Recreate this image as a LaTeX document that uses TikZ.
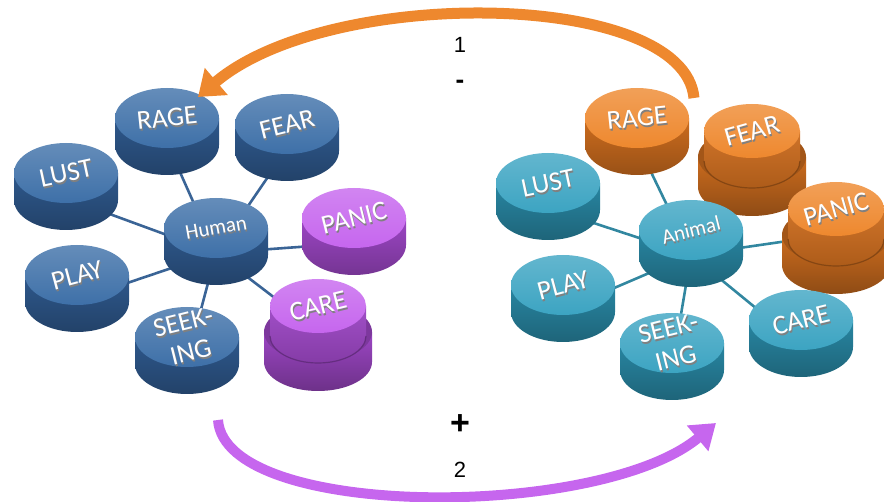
\documentclass[tikz,border=0pt]{standalone}
\usepackage{fontspec}
\usepackage{tikz}
\usetikzlibrary{calc}
\usetikzlibrary{arrows.meta}
\usetikzlibrary{shapes.geometric}
\newfontfamily\knobfont{Carlito}
\newfontfamily\markfont{Liberation Sans}
\definecolor{bluetop}{RGB}{62, 112, 168}
\definecolor{blueside}{RGB}{46, 88, 140}
\definecolor{bluespoke}{RGB}{58, 100, 150}
\definecolor{tealtop}{RGB}{60, 164, 194}
\definecolor{tealside}{RGB}{40, 134, 162}
\definecolor{tealspoke}{RGB}{50, 135, 160}
\definecolor{orangetop}{RGB}{238, 136, 46}
\definecolor{orangeside}{RGB}{204, 108, 30}
\definecolor{violettop}{RGB}{198, 102, 238}
\definecolor{violetside}{RGB}{156, 70, 196}
\pgfdeclarelayer{background}
\pgfsetlayers{background,main}

\tikzset{
  face/.style={ellipse, minimum width=104pt, minimum height=60pt, inner sep=0pt},
  capface/.style={ellipse, minimum width=96pt, minimum height=54pt, inner sep=0pt},
  knoblabel/.style={text=white, font=\knobfont\fontsize{27}{31}\selectfont, align=center, inner sep=0pt},
  hublabel/.style={knoblabel, font=\knobfont\fontsize{21}{22}\selectfont},
  spoke/.style={line width=2.6pt},
  signlabel/.style={font=\markfont\fontsize{22}{24}\selectfont}
}

% #1 label style, #2 name, #3 x, #4 y, #5 colour, #6 angle, #7 label
\newcommand{\knob}[7][knoblabel]{%
  \shade[top color=#5side, bottom color=#5side!75!black]
    (#3-52,#4) -- (#3-52,#4+27) arc[start angle=180, end angle=0, x radius=52, y radius=30] -- (#3+52,#4) -- cycle;
  \node[face, top color=#5top!80!white, bottom color=#5top] (#2) at (#3,#4) {};
  \node[#1, text=black!50, rotate=#6] (#2-s) at (#3+1,#4+2) {#7};
  \node[#1, rotate=#6] (#2-t) at (#3,#4) {#7};
}
% #1 name, #2 x, #3 y, #4 colour, #5 angle, #6 label
\newcommand{\tallknob}[6]{%
  \shade[top color=#4side, bottom color=#4side!70!black]
    (#2-54,#3+26) -- (#2-54,#3+56) arc[start angle=180, end angle=0, x radius=54, y radius=29] -- (#2+54,#3+26) -- cycle;
  \fill[#4side!80!black] (#2,#3+26) ellipse[x radius=54, y radius=29];
  \shade[top color=#4side!95!white, bottom color=#4side!85!black]
    (#2-48,#3) -- (#2-48,#3+30) arc[start angle=180, end angle=0, x radius=48, y radius=27] -- (#2+48,#3) -- cycle;
  \draw[#4side!65!black, line width=1.2pt] (#2-48,#3+30) arc[start angle=180, end angle=0, x radius=48, y radius=27];
  \node[capface, top color=#4top!80!white, bottom color=#4top] (#1) at (#2,#3) {};
  \node[knoblabel, text=black!50, rotate=#5] (#1-s) at (#2+1,#3+2) {#6};
  \node[knoblabel, rotate=#5] (#1-t) at (#2,#3) {#6};
}

\begin{document}
\begin{tikzpicture}[x=1pt, y=-1pt]
\useasboundingbox (0,0) rectangle (884,502);

% human side
\knob{hrage}{167}{118}{blue}{6}{RAGE}
\knob{hfear}{287}{124}{blue}{14}{FEAR}
\knob{hlust}{66}{173}{blue}{12}{LUST}
\knob[hublabel]{human}{216}{228}{blue}{10}{Human}
\knob{hpanic}{354}{218}{violet}{14}{PANIC}
\knob{hplay}{77}{275}{blue}{15}{PLAY}
\knob{hseeking}{187}{337}{blue}{14}{SEEK-\\ING}
\tallknob{hcare}{318}{306}{violet}{14}{CARE}

% animal side
\knob{arage}{637}{118}{orange}{6}{RAGE}
\tallknob{afear}{752}{131}{orange}{16}{FEAR}
\knob{alust}{548}{183}{teal}{12}{LUST}
\tallknob{apanic}{836}{209}{orange}{16}{PANIC}
\knob[hublabel]{animal}{691}{230}{teal}{14}{Animal}
\knob{aplay}{563}{285}{teal}{15}{PLAY}
\knob{acare}{801}{320}{teal}{14}{CARE}
\knob{aseeking}{672}{343}{teal}{14}{SEEK-\\ING}

\begin{pgfonlayer}{background}
  \foreach \k in {rage,fear,lust,panic,play,seeking,care}
    \draw[spoke, bluespoke] ($(human)+(0,25)$) -- ($(h\k)+(0,25)$);
  \foreach \k in {rage,fear,lust,panic,play,seeking,care}
    \draw[spoke, tealspoke] ($(animal)+(0,25)$) -- ($(a\k)+(0,25)$);
\end{pgfonlayer}

% arrows
\coordinate (a1s) at (694,98);
\coordinate (a1e) at (198,97);
\coordinate (a2s) at (218,420);
\coordinate (a2e) at (716,423);
\draw[line width=11pt, orangetop, -{Triangle[width=34pt,length=24pt]}]
  (a1s) .. controls (684,-10) and (330,-15) .. (a1e);
\draw[line width=10pt, violettop, -{Triangle[width=32pt,length=24pt]}]
  (a2s) .. controls (225,520) and (600,520) .. (a2e);

\node[signlabel] (one) at (460,45) {1};
\node[signlabel, font=\markfont\bfseries\fontsize{26}{28}\selectfont] (minus) at (460,84) {-};
\node[signlabel, font=\markfont\bfseries\fontsize{34}{36}\selectfont] (plus) at (460,425) {+};
\node[signlabel] (two) at (460,470) {2};
\end{tikzpicture}
\end{document}
